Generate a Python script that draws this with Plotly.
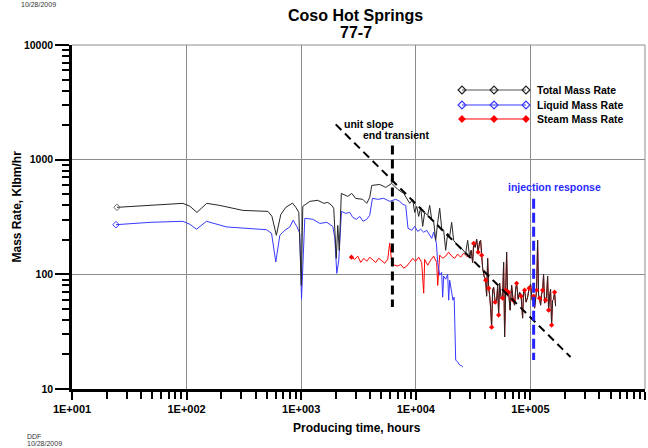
import plotly.graph_objects as go

# ---------------- data ----------------
total_t = [24.7, 47.9, 92.9, 107, 123, 150, 195, 310, 512, 555, 607, 664, 734, 840, 898, 953, 1002,
           1033, 1189, 1396, 1575, 1706, 1848, 1923, 2023, 2085, 2148, 2239, 2549, 2760, 2990, 3443,
           3732, 3963, 4128, 4845, 5466, 6168, 6955, 7840,
           8849, 9397, 9782, 10181, 10599, 11033, 11487, 11957, 12697, 13221, 13761, 14326, 14912,
           15524, 16160, 16820, 17512, 18228, 18977, 19752, 20558, 21404, 22735, 24146, 25645, 27237,
           28349, 29512,
           30410, 31340, 31970, 32950, 33960, 35000, 36070, 36800, 37550, 38310, 39480, 40690,
           41510, 42360, 43220, 44100, 44980, 45890, 46820, 47780, 49230, 50740, 51770, 52820,
           53880, 55530, 57230, 58390, 59570, 60780, 62010, 63260, 64550, 66520, 68560, 70660,
           72820, 74300, 75800, 78120, 80510, 82980, 85510, 87240, 89010, 91730, 94540, 97430,
           100400, 103500, 106600, 108800, 111000, 113300, 115600, 117900, 120300, 122700,
           125200, 127800, 130300, 133000, 135700, 138400, 141300, 144100, 147100, 150000,
           153100, 156200, 159400, 162600, 165900]
total_q = [384, 399, 416, 392, 347, 416, 399, 361, 354, 321, 219, 333, 384, 418, 384, 347, 80,
           392, 433, 442, 416, 424, 399, 376, 138, 267, 162, 508, 478, 508, 459, 451,
           416, 469, 596, 608, 573, 621, 551, 508,
           416, 450, 347, 391, 320, 385, 262, 347, 327, 399, 302, 290, 198,
           284, 377, 252, 242, 162, 228, 215, 284, 198, 183, 176, 165, 153,
           198, 141,
           162, 127, 186, 172, 202, 156, 194, 198, 147, 113, 96.3, 88.9,
           64.5, 138, 75.7, 65.8, 50.7, 34.6, 72.7, 77.2, 57.2, 59.5, 78.8, 44.1,
           83.6, 61.9, 61.9, 127, 28.4, 72.7, 156, 64.5, 69.9, 48.7, 80.4, 59.5,
           53.8, 74.2, 83.6, 60.7, 69.9, 64.5, 41.5, 74.2, 72.7, 57.2, 63.2, 75.7,
           82.0, 59.5, 64.5, 50.7, 59.5, 72.7, 198, 65.8, 61.9, 53.8,
           67.1, 72.7, 100, 56.1, 59.5, 64.5, 96.3, 48.7, 64.5, 74.2,
           36.1, 59.5, 60.7, 69.9, 52.8]

liquid_t = [24.2, 47.9, 92.9, 107, 122, 149, 223, 310, 498, 551, 600, 651, 720, 796, 850, 915, 972,
            1006, 1075, 1262, 1453, 1672, 1886, 1963, 2044, 2128,
            2246, 2448, 2653, 2818, 3035, 3243, 3465, 3732, 3963, 4183, 4655, 5250, 5922, 6680, 7237,
            7734, 8165, 8551, 9211, 9782, 10390, 11033, 11720, 12450, 13221, 13761, 14326, 15120,
            15524, 16160, 16820, 17160, 17512, 18228, 18977, 19361, 19752, 20437, 21101, 21620,
            22284, 23194, 24146, 25130, 25795]
liquid_q = [271, 284, 290, 273, 247, 290, 259, 252, 245, 228, 128, 219, 242, 259, 296, 262, 228,
            60.7, 308, 302, 278, 284, 262, 210, 102, 133,
            354, 340, 347, 314, 302, 320, 290, 302, 327, 460, 451, 460, 433, 451, 433,
            407, 399, 252, 242, 262, 237, 247, 233, 242, 223, 206, 233, 187,
            127, 98.2, 104, 63.2, 96.3, 90.7, 100, 59.5, 88.9, 68.5, 59.5, 63.2,
            17.9, 17.2, 16.2, 15.9, 15.5]

steam_t_early = [2745, 2934, 3115, 3308, 3514, 3732, 3963, 4209, 4471, 4749, 5044, 5357, 5689, 5923,
                 6165, 6549, 6954, 7386, 7844, 8331, 8849, 9397, 9980, 10599, 11257, 11720, 11957,
                 12697, 13490, 14326, 15213, 15524, 16160, 17160, 18228, 19361, 20558, 21840, 23194,
                 24636, 26160, 27788]
steam_q_early = [141, 135, 144, 127, 138, 130, 141, 133, 127, 138, 130, 125, 135, 187,
                 127, 120, 118, 122, 113, 118, 127, 138, 130, 141, 127, 68.5, 135,
                 120, 133, 144, 127, 80, 147, 138, 144, 156, 144, 138, 150,
                 141, 153, 144]

# once the liquid is gone the steam rate is the total rate
steam_t = steam_t_early + [t for t in total_t if t > 29000]
steam_q = steam_q_early + [q for t, q in zip(total_t, total_q) if t > 29000]

unit_slope_t = [2000, 224000]
unit_slope_q = [2030, 19.0]
end_transient_t = [6250, 6250]
end_transient_q = [1330, 52]
injection_t = [106700, 106700]
injection_q = [457, 17.9]

x_tickvals = [10, 100, 1000, 10000, 100000, 1000000]
x_ticktext = ["1E+001", "1E+002", "1E+003", "1E+004", "1E+005", "1E+006"]
y_tickvals = [10, 100, 1000, 10000]
y_ticktext = ["10", "100", "1000", "10000"]

series_names = ["Total Mass Rate", "Liquid Mass Rate", "Steam Mass Rate"]

# ---------------- styling ----------------
FONT = "Liberation Sans, Arial, sans-serif"
TOTAL_C = "#262626"
LIQ_C = "#3838ff"
STEAM_C = "#ff0000"
GRID_C = "#8c8c8c"

fig = go.Figure()

fig.add_trace(go.Scatter(x=steam_t, y=steam_q, mode="lines",
                         line=dict(color=STEAM_C, width=1), hoverinfo="skip"))
fig.add_trace(go.Scatter(x=liquid_t, y=liquid_q, mode="lines",
                         line=dict(color=LIQ_C, width=1), hoverinfo="skip"))
fig.add_trace(go.Scatter(x=total_t, y=total_q, mode="lines",
                         line=dict(color=TOTAL_C, width=1), hoverinfo="skip"))

# sparse markers as in the reference
fig.add_trace(go.Scatter(x=[total_t[0]], y=[total_q[0]], mode="markers", hoverinfo="skip",
                         marker=dict(symbol="diamond-open", size=5, color="#666666",
                                     line=dict(width=1))))
fig.add_trace(go.Scatter(x=[liquid_t[0]], y=[liquid_q[0]], mode="markers", hoverinfo="skip",
                         marker=dict(symbol="diamond-open", size=5, color=LIQ_C,
                                     line=dict(width=1))))
mk_t = [steam_t[0]] + [t for i, t in enumerate(steam_t) if t > 30000 and i % 3 == 0]
mk_q = [steam_q[0]] + [q for i, (t, q) in enumerate(zip(steam_t, steam_q)) if t > 30000 and i % 3 == 0]
fig.add_trace(go.Scatter(x=mk_t, y=mk_q, mode="markers", hoverinfo="skip",
                         marker=dict(symbol="diamond", size=4, color=STEAM_C)))

# guide lines
fig.add_trace(go.Scatter(x=unit_slope_t, y=unit_slope_q, mode="lines", hoverinfo="skip",
                         line=dict(color="black", width=2, dash="8px,5px")))
fig.add_trace(go.Scatter(x=end_transient_t, y=end_transient_q, mode="lines", hoverinfo="skip",
                         line=dict(color="black", width=3, dash="9px,5px")))
fig.add_trace(go.Scatter(x=injection_t, y=injection_q, mode="lines", hoverinfo="skip",
                         line=dict(color="#2424ff", width=3, dash="10px,4px")))

# custom legend (line with three diamonds) on a hidden overlay axis
LX = [0.6806, 0.7365, 0.7923]
LY = [0.8692, 0.8256, 0.7849]
leg_styles = [
    dict(line=dict(color="#555555", width=1),
         marker=dict(symbol="diamond-open", size=6, color="#222222", line=dict(width=1.2))),
    dict(line=dict(color=LIQ_C, width=1),
         marker=dict(symbol="diamond-open", size=6, color=LIQ_C, line=dict(width=1.2))),
    dict(line=dict(color=STEAM_C, width=1),
         marker=dict(symbol="diamond", size=6, color=STEAM_C)),
]
for yy, st in zip(LY, leg_styles):
    fig.add_trace(go.Scatter(x=LX, y=[yy] * 3, mode="lines+markers", xaxis="x2", yaxis="y2",
                             hoverinfo="skip", **st))


def txt(text, x, y, size, color="black", bold=True, xanchor="center", **kw):
    d = dict(text=text, x=x, y=y, xref="paper", yref="paper", showarrow=False,
             xanchor=xanchor, yanchor="middle",
             font=dict(family=FONT, size=size, color=color, weight="bold" if bold else "normal"))
    d.update(kw)
    return d


ann = [txt(name, 0.808, yy, 10.5, xanchor="left") for yy, name in zip(LY, series_names)]
ann += [
    txt("Coso Hot Springs", 0.4956, 1.0852, 16),
    txt("77-7", 0.4956, 1.0363, 16),
    txt("Mass Rate, Klbm/hr", -0.096, 0.5305, 12, textangle=-90),
    txt("Producing time, hours", 0.4974, -0.1148, 12),
    txt("unit slope", 0.5183, 0.7718, 10.5),
    txt("end transient", 0.5654, 0.7384, 10.5),
    txt("injection response", 0.8429, 0.5872, 10.5, color="#2a2aff"),
    txt("10/28/2009", -0.0593, 1.1163, 7, color="#333333", bold=False),
    txt("DDF", -0.082, -0.137, 7, color="#333333", bold=False, xanchor="left"),
    txt("10/28/2009", -0.082, -0.157, 7, color="#333333", bold=False, xanchor="left"),
]

x_minor = [m * 10 ** k for k in range(1, 6) for m in range(2, 10)]
y_minor = [m * 10 ** k for k in range(1, 4) for m in range(2, 10)]

fig.update_layout(
    width=648, height=448,
    margin=dict(l=72, r=3, t=45, b=59, pad=0),
    paper_bgcolor="white", plot_bgcolor="white",
    showlegend=False,
    font=dict(family=FONT, color="black"),
    xaxis=dict(type="log", range=[1, 6], tickmode="array", tickvals=x_tickvals,
               ticktext=x_ticktext, ticks="outside", ticklen=8, tickwidth=2, tickcolor="black",
               tickfont=dict(family=FONT, size=11, color="black", weight="bold"),
               showline=True, linecolor="black", linewidth=2.5,
               showgrid=True, gridcolor=GRID_C, gridwidth=1, zeroline=False,
               minor=dict(tickmode="array", tickvals=x_minor, ticks="outside", ticklen=7,
                          tickwidth=1.5, tickcolor="black", showgrid=False),
               automargin=False, fixedrange=True),
    yaxis=dict(type="log", range=[1, 4], tickmode="array", tickvals=y_tickvals,
               ticktext=y_ticktext, ticks="outside", ticklen=14, tickwidth=2, tickcolor="black",
               tickfont=dict(family=FONT, size=10.5, color="black", weight="bold"),
               showline=True, linecolor="black", linewidth=2.5,
               showgrid=True, gridcolor=GRID_C, gridwidth=1, zeroline=False,
               minor=dict(tickmode="array", tickvals=y_minor, ticks="outside", ticklen=7,
                          tickwidth=1.5, tickcolor="black", showgrid=False),
               automargin=False, fixedrange=True),
    xaxis2=dict(overlaying="x", range=[0, 1], visible=False, fixedrange=True),
    yaxis2=dict(overlaying="y", range=[0, 1], visible=False, fixedrange=True),
    annotations=ann,
    shapes=[
        dict(type="line", xref="paper", yref="paper", x0=0, x1=1, y0=1, y1=1,
             line=dict(color=GRID_C, width=1)),
        dict(type="line", xref="paper", yref="paper", x0=1, x1=1, y0=0, y1=1,
             line=dict(color=GRID_C, width=1)),
    ],
)

fig.write_html("out.html", config={"displayModeBar": False})
